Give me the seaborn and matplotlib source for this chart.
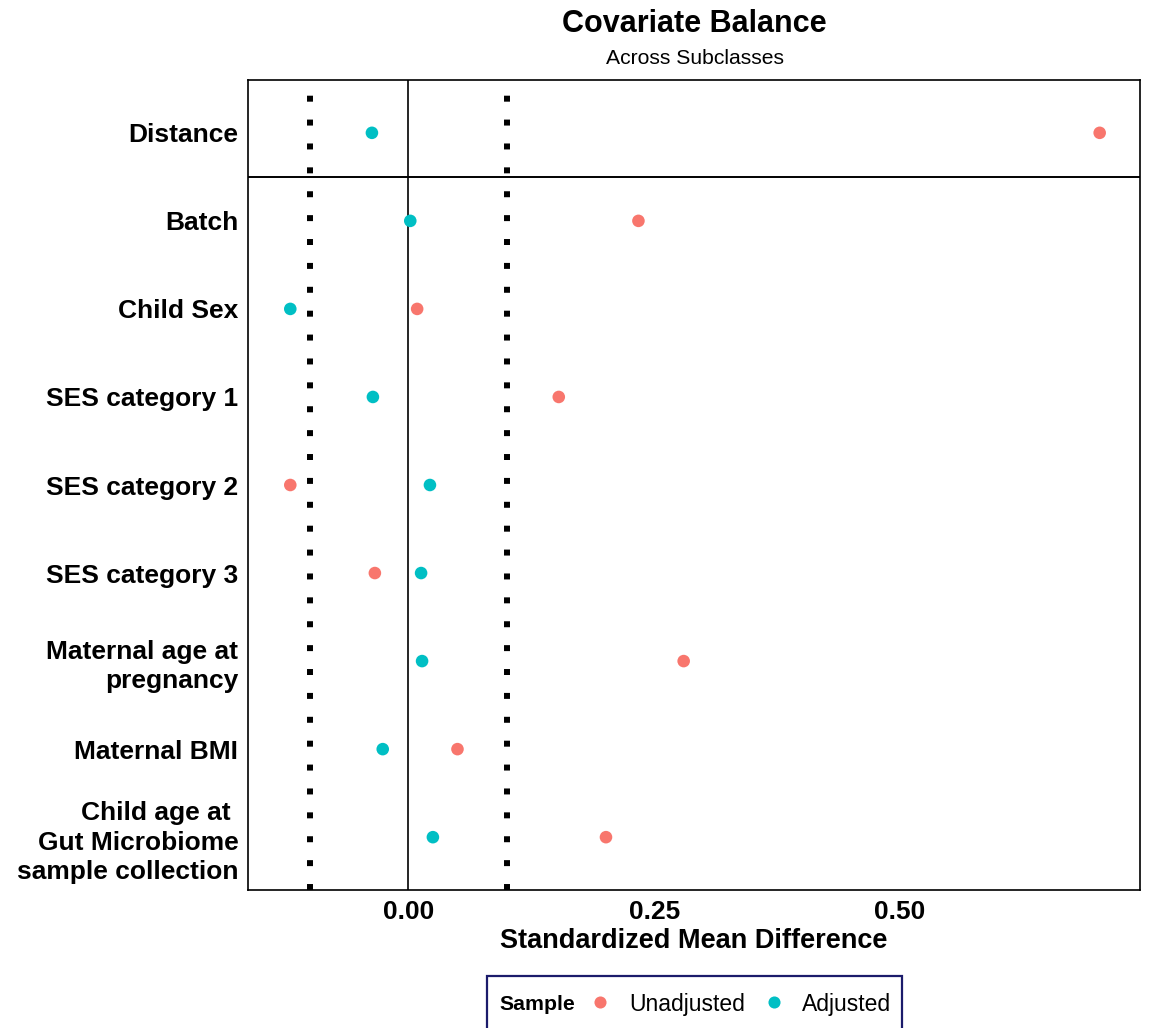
import matplotlib
matplotlib.use("Agg")
import matplotlib.pyplot as plt
import seaborn as sns
import pandas as pd
from matplotlib.lines import Line2D
from matplotlib.patches import Rectangle

covariates = ["Distance", "Batch", "Child Sex", "SES category 1", "SES category 2",
              "SES category 3", "Maternal age at\npregnancy", "Maternal BMI",
              "Child age at \nGut Microbiome\nsample collection"]
unadjusted = [0.703, 0.234, 0.009, 0.153, -0.120, -0.034, 0.280, 0.050, 0.201]
adjusted = [-0.037, 0.002, -0.120, -0.036, 0.022, 0.013, 0.014, -0.026, 0.025]
samples = ["Unadjusted", "Adjusted"]
colors = ["#F8766D", "#00BFC4"]
xticks = [0.0, 0.25, 0.50]
xticklabels = ["0.00", "0.25", "0.50"]
threshold = 0.1

df = pd.DataFrame({
    "covariate": covariates * 2,
    "smd": unadjusted + adjusted,
    "Sample": [samples[0]] * len(covariates) + [samples[1]] * len(covariates),
})

sns.set_theme(style="white")
plt.rcParams["font.family"] = ["Liberation Sans", "DejaVu Sans"]
plt.rcParams["text.color"] = "black"
plt.rcParams["axes.labelcolor"] = "black"

W, H = 1149, 1028
fig = plt.figure(figsize=(W / 100, H / 100), dpi=100)
ax = fig.add_axes([248 / W, 1 - 890 / H, (1140 - 248) / W, (890 - 80) / H])

ax.axvline(0, color="black", lw=1.2, zorder=1)
for t in (-threshold, threshold):
    ax.axvline(t, color="black", lw=4.3, linestyle=(0, (1, 3)), dash_capstyle="butt", zorder=1)
ax.axhline(0.5, color="black", lw=1.4, zorder=1)

sns.scatterplot(data=df, x="smd", y="covariate", hue="Sample", palette=colors,
                hue_order=samples, s=82, edgecolor="none", ax=ax, legend=False, zorder=3)

ax.set_xlim(-0.163, 0.744)
ax.set_ylim(len(covariates) - 0.4, -0.6)
ax.set_xticks(xticks)
ax.set_xticklabels(xticklabels)
ax.tick_params(axis="both", length=4, width=1, color="#333333", direction="out",
               labelsize=19, pad=3, labelcolor="black")
for lbl in ax.get_xticklabels() + ax.get_yticklabels():
    lbl.set_fontweight("bold")
for lbl in ax.get_yticklabels():
    lbl.set_horizontalalignment("right")
    lbl.set_multialignment("right")
    lbl.set_linespacing(1.3)
ax.set_ylabel("")
ax.set_xlabel("Standardized Mean Difference", fontsize=19.5, fontweight="bold", labelpad=3)
for sp in ax.spines.values():
    sp.set_visible(True)
    sp.set_color("black")
    sp.set_linewidth(1.2)

fig.text(694.5 / W, 1 - 24 / H, "Covariate Balance", ha="center", va="center",
         fontsize=22, fontweight="bold")
fig.text(694.5 / W, 1 - 59 / H, "Across Subclasses", ha="center", va="center", fontsize=15.2)

# legend box
fig.patches.append(Rectangle((487 / W, -0.05), (902 - 487) / W, 0.05 + 1 - 976 / H,
                             transform=fig.transFigure, facecolor="white",
                             edgecolor="#1B1B6B", linewidth=1.6, zorder=0))
fig.text(499 / W, 1 - 1004 / H, "Sample", ha="left", va="center", fontsize=15.3,
         fontweight="bold")
handles = []
for lab, c in zip(samples, colors):
    handles.append(Line2D([], [], linestyle="none", marker="o", markersize=8.7,
                          markerfacecolor=c, markeredgecolor="none", label=lab))
leg = fig.legend(handles=handles, loc="center left", bbox_to_anchor=(591 / W, 1 - 1004 / H),
                 ncol=2, frameon=False, fontsize=16.5, handlelength=0.8, handletextpad=0.85,
                 columnspacing=0.86, borderpad=0, borderaxespad=0)

fig.savefig("out.png", dpi=100)
